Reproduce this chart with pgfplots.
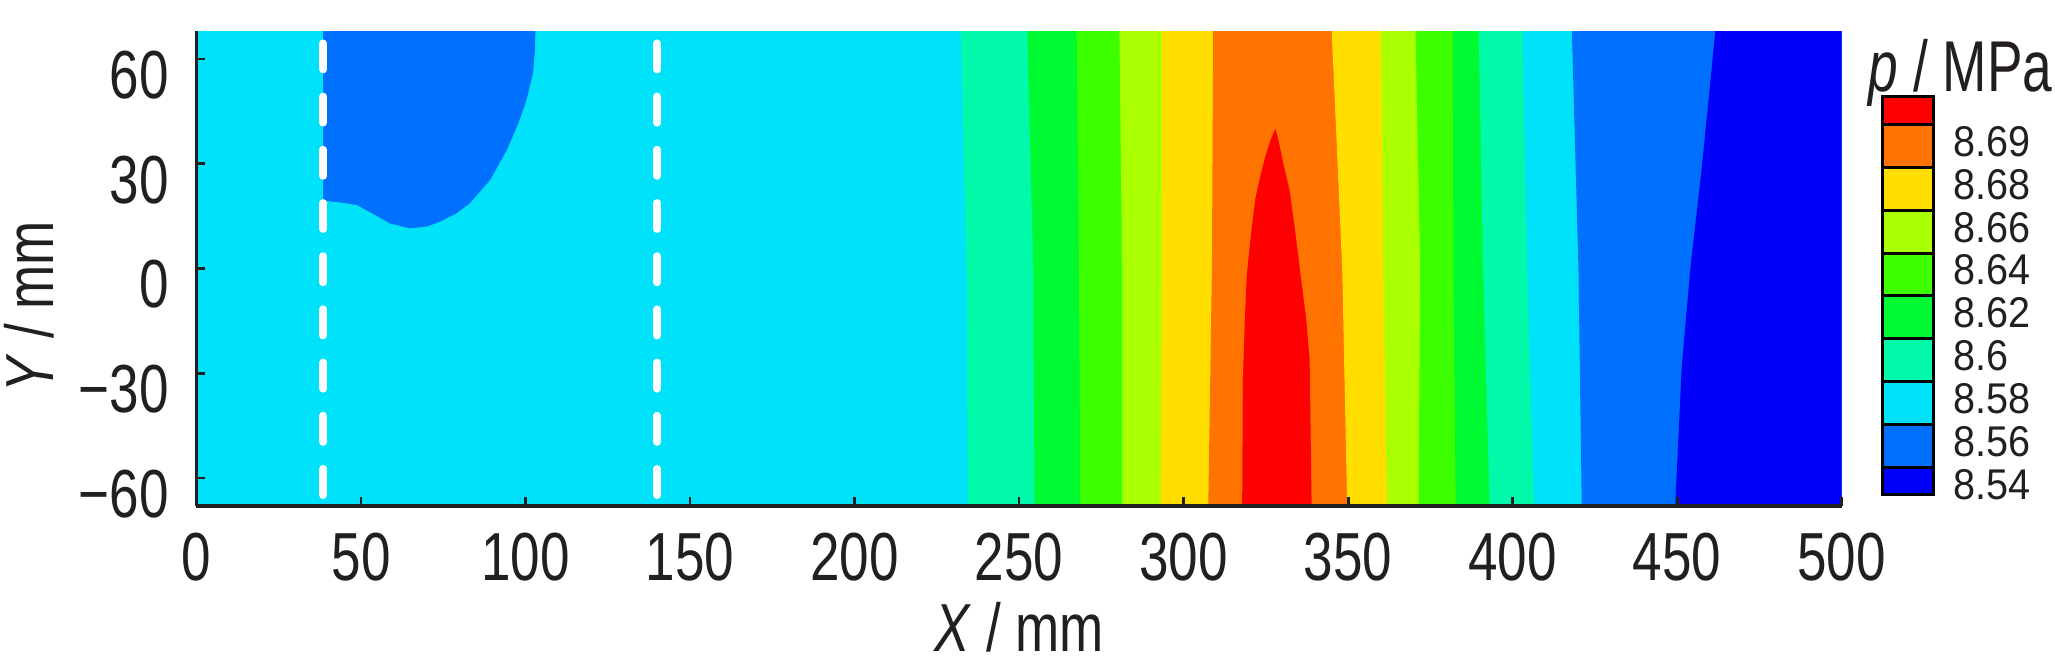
\documentclass[border=0pt]{standalone}
\usepackage{pgfplots}
\pgfplotsset{compat=1.18}
\usepackage{fontspec}
\setmainfont{Liberation Sans}
\newfontfamily\condfont{Liberation Sans}[FakeStretch=0.78]
\newfontfamily\cbtitlefont{Liberation Sans}[FakeStretch=0.74]
\newfontfamily\cblabfont{Liberation Sans}[FakeStretch=0.92]
\newcommand\tickfont{\condfont\fontsize{17}{20}\selectfont}
\newcommand\labfont{\condfont\fontsize{17}{20}\selectfont}
\definecolor{txt}{RGB}{35,31,32}
\definecolor{cRed}{RGB}{255,0,0}
\definecolor{cOrange}{RGB}{255,115,0}
\definecolor{cYellow}{RGB}{255,222,0}
\definecolor{cYG}{RGB}{170,255,0}
\definecolor{cGreen}{RGB}{60,255,0}
\definecolor{cGreenB}{RGB}{0,250,50}
\definecolor{cTeal}{RGB}{0,250,170}
\definecolor{cCyan}{RGB}{0,226,250}
\definecolor{cMed}{RGB}{0,112,255}
\definecolor{cBlue}{RGB}{0,0,250}
\begin{document}
\begin{tikzpicture}
\path[use as bounding box] (-49.125pt,-39pt) rectangle (464.625pt,126.5pt);
\begin{axis}[
  at={(0pt,0pt)}, anchor=south west,
  scale only axis, width=411.3pt, height=118.75pt,
  xmin=0, xmax=500, ymin=-68, ymax=68,
  axis x line=bottom, axis y line=left,
  axis line style={txt, line width=0.8pt, -},
  axis on top,
  tick align=inside, major tick length=2.2pt,
  tick style={txt, line width=0.7pt},
  xtick={0,50,100,150,200,250,300,350,400,450,500},
  xticklabels={0,50,100,150,200,250,300,350,400,450,500},
  ytick={-60,-30,0,30,60},
  yticklabels={−60,−30,0,30,60},
  xticklabel style={font=\tickfont, text=txt, anchor=base, inner sep=0pt, yshift=-18.75pt},
  yticklabel style={font=\tickfont, text=txt, anchor=east, inner sep=0pt, xshift=-6.75pt, yshift=-4pt},
  xlabel={\textit{X} / mm},
  ylabel={\textit{Y} / mm},
  xlabel style={font=\labfont, text=txt, at={(axis description cs:0.5,0)}, anchor=base, inner sep=0pt, yshift=-36.5pt},
  ylabel style={font=\labfont, text=txt, at={(axis description cs:-0.1018,0.42)}, anchor=center, inner sep=0pt},
]
% base level 8.56-8.58
\addplot[fill=cCyan, draw=none] coordinates {(0,-68) (500,-68) (500,68) (0,68)} --cycle;
% low-pressure region near the inlet
\addplot[fill=cMed, draw=none] coordinates {(38.5,68) (38.5,19.4) (43,19) (48.7,18.2) (53,16) (58.8,12.9) (64.9,11.5) (70,12) (74,13.4) (79,15.8) (83.1,18.7) (89.2,25.3) (94.3,33.9) (98,42) (100.2,48) (102.3,56) (102.8,62) (103,68)} --cycle;
% bands, each painted from its left boundary to the right edge
\addplot[fill=cTeal, draw=none] coordinates {(232.3,68) (234.0,0) (234.4,-68) (500,-68) (500,68)} --cycle;
\addplot[fill=cGreenB, draw=none] coordinates {(252.5,68) (254.3,0) (254.7,-68) (500,-68) (500,68)} --cycle;
\addplot[fill=cGreen, draw=none] coordinates {(267.5,68) (268.2,0) (268.6,-68) (500,-68) (500,68)} --cycle;
\addplot[fill=cYG, draw=none] coordinates {(280.5,68) (281.3,0) (281.3,-68) (500,-68) (500,68)} --cycle;
\addplot[fill=cYellow, draw=none] coordinates {(293.5,68) (293.4,0) (293.0,-68) (500,-68) (500,68)} --cycle;
\addplot[fill=cOrange, draw=none] coordinates {(309.0,68) (308.6,0) (307.5,-68) (500,-68) (500,68)} --cycle;
\addplot[fill=cRed, draw=none] coordinates {(317.8,-68) (318,-32) (318.6,-15) (319.2,-2) (320.5,10) (321.8,20) (323.2,26) (324.8,32) (326.5,37) (327.9,40) (329,36) (330.3,30) (332.2,22.5) (334,10) (335.7,-3) (337.2,-14) (338.3,-26) (338.9,-68)} --cycle;
\addplot[fill=cYellow, draw=none] coordinates {(345.0,68) (348.2,0) (349.7,-68) (500,-68) (500,68)} --cycle;
\addplot[fill=cYG, draw=none] coordinates {(360.0,68) (360.7,0) (361.8,-68) (500,-68) (500,68)} --cycle;
\addplot[fill=cGreen, draw=none] coordinates {(370.5,68) (371.9,0) (371.4,-68) (500,-68) (500,68)} --cycle;
\addplot[fill=cGreenB, draw=none] coordinates {(381.8,68) (382.0,0) (382.7,-68) (500,-68) (500,68)} --cycle;
\addplot[fill=cTeal, draw=none] coordinates {(389.7,68) (391.0,0) (393.0,-68) (500,-68) (500,68)} --cycle;
\addplot[fill=cCyan, draw=none] coordinates {(403.0,68) (404.4,0) (406.5,-68) (500,-68) (500,68)} --cycle;
\addplot[fill=cMed, draw=none] coordinates {(418.0,68) (420.0,0) (421.0,-68) (500,-68) (500,68)} --cycle;
\addplot[fill=cBlue, draw=none] coordinates {(461.6,68) (459.5,48) (457.5,29) (454,0) (451.4,-28) (449.4,-68) (500,-68) (500,68)} --cycle;
% dashed white lines
\addplot[white, line width=2pt, line cap=round, dash pattern=on 6.5pt off 6.8pt] coordinates {(38.5,64.45) (38.5,-68)};
\addplot[white, line width=2pt, line cap=round, dash pattern=on 6.5pt off 6.8pt] coordinates {(140,64.45) (140,-68)};
\end{axis}
\begin{axis}[
  at={(421.375pt,2.75pt)}, anchor=south west,
  scale only axis, width=12.75pt, height=99.5pt,
  xmin=0, xmax=1, ymin=0, ymax=9.26,
  clip=false,
  axis line style={draw=none},
  xtick=\empty,
  ytick={0.23,1.23,2.23,3.23,4.23,5.23,6.23,7.23,8.23},
  yticklabels={8.54,8.56,8.58,8.6,8.62,8.64,8.66,8.68,8.69},
  yticklabel pos=right,
  major tick length=0pt, tick style={draw=none},
  yticklabel style={font=\cblabfont\fontsize{10.75}{12}\selectfont, text=txt, anchor=west, inner sep=0pt, xshift=5pt},
]
\addplot[fill=cBlue, draw=black, line width=0.75pt] coordinates {(0,0) (1,0) (1,0.63) (0,0.63)} --cycle;
\addplot[fill=cMed, draw=black, line width=0.75pt] coordinates {(0,0.63) (1,0.63) (1,1.63) (0,1.63)} --cycle;
\addplot[fill=cCyan, draw=black, line width=0.75pt] coordinates {(0,1.63) (1,1.63) (1,2.63) (0,2.63)} --cycle;
\addplot[fill=cTeal, draw=black, line width=0.75pt] coordinates {(0,2.63) (1,2.63) (1,3.63) (0,3.63)} --cycle;
\addplot[fill=cGreenB, draw=black, line width=0.75pt] coordinates {(0,3.63) (1,3.63) (1,4.63) (0,4.63)} --cycle;
\addplot[fill=cGreen, draw=black, line width=0.75pt] coordinates {(0,4.63) (1,4.63) (1,5.63) (0,5.63)} --cycle;
\addplot[fill=cYG, draw=black, line width=0.75pt] coordinates {(0,5.63) (1,5.63) (1,6.63) (0,6.63)} --cycle;
\addplot[fill=cYellow, draw=black, line width=0.75pt] coordinates {(0,6.63) (1,6.63) (1,7.63) (0,7.63)} --cycle;
\addplot[fill=cOrange, draw=black, line width=0.75pt] coordinates {(0,7.63) (1,7.63) (1,8.63) (0,8.63)} --cycle;
\addplot[fill=cRed, draw=black, line width=0.75pt] coordinates {(0,8.63) (1,8.63) (1,9.26) (0,9.26)} --cycle;
\node[anchor=base west, inner sep=0pt, font=\cbtitlefont\fontsize{18}{20}\selectfont, text=txt] at (axis description cs:-0.275,1.015) {\textit{p} / MPa};
\end{axis}
\end{tikzpicture}
\end{document}
